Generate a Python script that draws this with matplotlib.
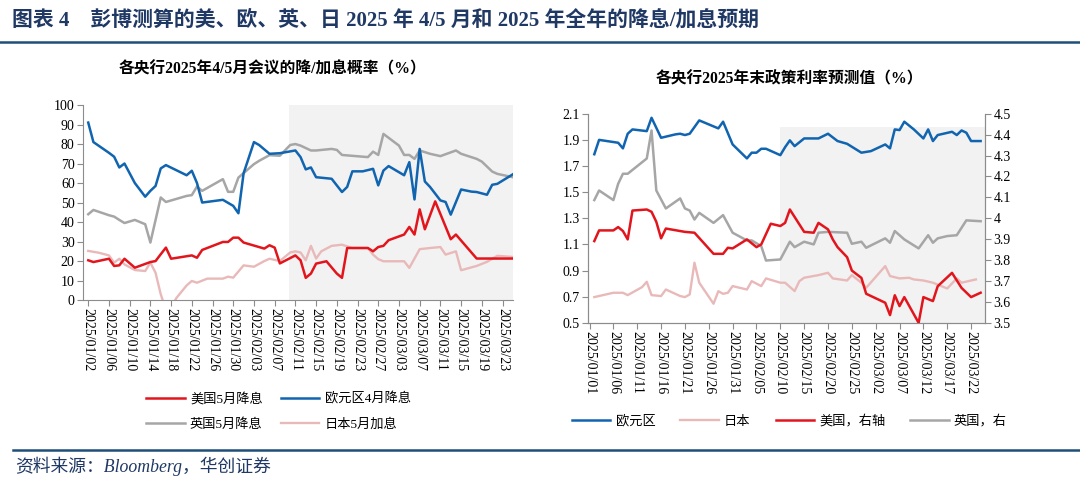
import pandas as pd
import numpy as np
import matplotlib
matplotlib.use("Agg")
import matplotlib.pyplot as plt
from matplotlib.lines import Line2D

plt.rcParams['font.family'] = ['Liberation Serif', 'Noto Sans CJK SC']
plt.rcParams['axes.unicode_minus'] = False

# ---------------- left chart: probability of cut / hike at Apr/May meeting (%) ----------------
us_may_dates = ['01-02', '01-03', '01-06', '01-07', '01-08', '01-09', '01-11', '01-14', '01-15', '01-16',
                '01-17', '01-18', '01-22', '01-23', '01-24', '01-28', '01-29', '01-30', '01-31', '02-01',
                '02-05', '02-06', '02-07', '02-08', '02-11', '02-12', '02-13', '02-14', '02-15', '02-17',
                '02-19', '02-20', '02-21', '02-25', '02-26', '02-27', '02-28', '03-01', '03-04', '03-05',
                '03-06', '03-07', '03-08', '03-10', '03-13', '03-14', '03-18', '03-25']
us_may = [20.4, 19.5, 21.2, 17.5, 17.8, 21.2, 16.6, 19.5, 20, 23.5,
          26.9, 21.2, 22.9, 21.7, 25.7, 29.8, 29.8, 32, 32, 29.5,
          26.4, 28.1, 26.9, 18.8, 22.9, 20.4, 11.4, 13.6, 18.7, 19.9,
          13.6, 11.4, 26.7, 26.7, 25, 27.2, 27.8, 30.7, 33.6, 37.5,
          33.6, 46.5, 36.3, 50.6, 31.2, 33.6, 21.3, 21.3]

ez_apr_dates = ['01-02', '01-03', '01-06', '01-07', '01-08', '01-09', '01-11', '01-13', '01-14', '01-15',
                '01-16', '01-17', '01-21', '01-22', '01-23', '01-24', '01-28', '01-30', '01-31', '02-01',
                '02-03', '02-04', '02-06', '02-08', '02-11', '02-12', '02-13', '02-14', '02-15', '02-18',
                '02-20', '02-21', '02-22', '02-24', '02-26', '02-27', '02-28', '03-01', '03-04', '03-05',
                '03-06', '03-07', '03-08', '03-09', '03-11', '03-12', '03-13', '03-15', '03-17', '03-18',
                '03-20', '03-21', '03-22', '03-25']
ez_apr = [91, 81, 75.5, 73.5, 68, 70, 60, 53, 56, 58.5,
          67.5, 69.2, 64, 66.3, 60, 50, 51.4, 48.3, 44.5, 65,
          81, 79.5, 75, 75.3, 76.7, 73.3, 67, 68, 63, 62.2,
          55.4, 58, 66, 66, 67.3, 58.8, 66.4, 68.7, 64, 70.7,
          51.6, 77.5, 60.8, 58, 51.1, 50.3, 43.8, 56.7, 55.6, 55.4,
          54, 59.1, 59.6, 64.5]

uk_may_dates = ['01-02', '01-03', '01-06', '01-07', '01-08', '01-09', '01-11', '01-13', '01-14', '01-16',
                '01-17', '01-21', '01-22', '01-23', '01-24', '01-28', '01-29', '01-30', '01-31', '02-03',
                '02-04', '02-06', '02-08', '02-10', '02-11', '02-12', '02-14', '02-15', '02-18', '02-19',
                '02-20', '02-25', '02-26', '02-27', '02-28', '03-03', '03-04', '03-05', '03-06', '03-07',
                '03-09', '03-11', '03-14', '03-15', '03-18', '03-19', '03-21', '03-22', '03-25']
uk_may = [44, 46.2, 43.5, 42.8, 41.1, 39.5, 41.1, 38.9, 29.5, 52.6,
          50.3, 53.4, 53.8, 58.2, 56, 62, 55.5, 55.5, 62.8, 69.7,
          71.4, 74.3, 74, 79.5, 80, 79.2, 76.7, 76.7, 77.5, 77,
          74.4, 73.3, 76.1, 74.4, 85.2, 79.2, 74.4, 74.4, 72.4, 76.7,
          75, 73.8, 76.7, 75, 72.4, 71, 65.9, 64.7, 63]

jp_may_dates = ['01-02', '01-04', '01-06', '01-07', '01-08', '01-09', '01-11', '01-13', '01-14', '01-15',
                '01-16', '01-17', '01-18', '01-19', '01-21', '01-22', '01-23', '01-25', '01-28', '01-29',
                '01-30', '02-01', '02-03', '02-05', '02-06', '02-08', '02-10', '02-11', '02-12', '02-13',
                '02-14', '02-15', '02-16', '02-18', '02-20', '02-22', '02-25', '02-26', '02-27', '02-28',
                '03-02', '03-04', '03-05', '03-07', '03-09', '03-11', '03-12', '03-14', '03-15', '03-18',
                '03-20', '03-22', '03-25']
jp_may = [25.2, 24.3, 22.9, 19.2, 21.2, 18.3, 15.4, 14.9, 19.2, 14,
          3, -5, -4, 1, 7.5, 9.8, 8.9, 11, 11, 12,
          11.5, 17.8, 17.1, 20, 21.2, 20, 24.4, 25, 24.4, 20.4,
          27.8, 21.3, 25, 27.8, 28.4, 26.7, 26.7, 23.3, 21, 19.9,
          19.9, 19.9, 16.5, 26.1, 26.7, 27.2, 23.3, 25, 15.3, 17.5,
          19.6, 22.7, 22.1]

# ---------------- right chart: end-2025 policy rate forecasts (%) ----------------
ez_dates = ['01-02', '01-03', '01-07', '01-08', '01-09', '01-10', '01-13', '01-14', '01-16', '01-19',
            '01-20', '01-21', '01-22', '01-24', '01-28', '01-29', '01-31', '02-03', '02-04', '02-05',
            '02-06', '02-07', '02-10', '02-11', '02-12', '02-13', '02-15', '02-18', '02-20', '02-22',
            '02-24', '02-27', '03-01', '03-04', '03-05', '03-06', '03-07', '03-08', '03-10', '03-12',
            '03-13', '03-14', '03-15', '03-18', '03-19', '03-20', '03-21', '03-22', '03-24']
ez = [1.79, 1.90, 1.878, 1.835, 1.947, 1.98, 1.967, 2.069, 1.916, 1.942,
      1.947, 1.937, 1.947, 2.049, 1.988, 2.039, 1.865, 1.758, 1.802, 1.802,
      1.832, 1.832, 1.783, 1.844, 1.896, 1.852, 1.911, 1.911, 1.947, 1.891,
      1.870, 1.802, 1.814, 1.865, 1.835, 1.98, 1.975, 2.039, 1.98, 1.911,
      1.98, 1.891, 1.937, 1.962, 1.937, 1.972, 1.955, 1.891, 1.891]

jp_dates = ['01-02', '01-06', '01-08', '01-09', '01-12', '01-13', '01-14', '01-16', '01-17', '01-20',
            '01-21', '01-22', '01-23', '01-24', '01-27', '01-28', '01-29', '01-30', '01-31', '02-03',
            '02-04', '02-06', '02-07', '02-10', '02-11', '02-13', '02-14', '02-15', '02-18', '02-20',
            '02-21', '02-24', '02-25', '02-27', '02-28', '03-04', '03-05', '03-07', '03-09', '03-10',
            '03-12', '03-14', '03-17', '03-19', '03-20', '03-23']
jp = [0.697, 0.73, 0.73, 0.712, 0.773, 0.814, 0.712, 0.705, 0.755, 0.705,
      0.697, 0.717, 0.96, 0.807, 0.646, 0.742, 0.722, 0.73, 0.781, 0.755,
      0.819, 0.781, 0.84, 0.807, 0.807, 0.743, 0.819, 0.845, 0.865, 0.883,
      0.84, 0.824, 0.865, 0.807, 0.768, 0.934, 0.858, 0.84, 0.845, 0.832,
      0.824, 0.807, 0.763, 0.84, 0.807, 0.832]

us_dates = ['01-02', '01-03', '01-06', '01-07', '01-08', '01-09', '01-10', '01-13', '01-14', '01-15',
            '01-16', '01-17', '01-20', '01-21', '01-23', '01-27', '01-29', '01-30', '01-31', '02-03',
            '02-05', '02-06', '02-08', '02-10', '02-11', '02-12', '02-15', '02-17', '02-18', '02-20',
            '02-21', '02-22', '02-24', '02-25', '02-27', '02-28', '03-04', '03-05', '03-06', '03-07',
            '03-08', '03-11', '03-12', '03-14', '03-15', '03-18', '03-20', '03-22', '03-24']
us = [3.891, 3.942, 3.942, 3.958, 3.939, 3.899, 4.037, 4.042, 4.031, 3.983,
      3.904, 3.951, 3.939, 3.935, 3.931, 3.83, 3.83, 3.859, 3.856, 3.899,
      3.862, 3.875, 3.974, 3.963, 3.978, 4.042, 3.935, 3.931, 3.978, 3.947,
      3.899, 3.862, 3.814, 3.75, 3.715, 3.639, 3.596, 3.537, 3.632, 3.58,
      3.623, 3.5, 3.623, 3.604, 3.675, 3.739, 3.667, 3.623, 3.644]

uk_dates = ['01-02', '01-03', '01-06', '01-07', '01-08', '01-09', '01-13', '01-14', '01-15', '01-17',
            '01-20', '01-21', '01-22', '01-23', '01-24', '01-27', '01-29', '01-31', '02-03', '02-04',
            '02-06', '02-07', '02-10', '02-12', '02-13', '02-15', '02-17', '02-18', '02-20', '02-24',
            '02-25', '02-27', '02-28', '03-04', '03-05', '03-06', '03-08', '03-11', '03-13', '03-14',
            '03-15', '03-17', '03-19', '03-21', '03-24']
uk = [4.087, 4.133, 4.087, 4.165, 4.213, 4.213, 4.286, 4.42, 4.133, 4.047,
      4.095, 4.047, 4.037, 3.994, 4.026, 3.978, 4.015, 3.931, 3.894, 3.894,
      3.867, 3.798, 3.803, 3.888, 3.862, 3.888, 3.875, 3.931, 3.935, 3.931,
      3.878, 3.888, 3.859, 3.904, 3.883, 3.939, 3.899, 3.856, 3.919, 3.883,
      3.904, 3.915, 3.919, 3.99, 3.986]

shade_start = '02-10'

BLUE = '#1064B0'
RED = '#E2151D'
GRAY = '#A6A6A6'
PINK = '#E9B9B9'
SHADE = '#F2F2F2'
NAVY = '#1F3864'
AXC = '#8C8C8C'


def d(lst):
    return pd.to_datetime(['2025-' + s for s in lst])


fig = plt.figure(figsize=(10.8, 4.84), dpi=100)

# header / footer
fig.text(0.011, 0.958, '图表 4    彭博测算的美、欧、英、日 2025 年 4/5 月和 2025 年全年的降息/加息预期',
         fontsize=15, fontweight='bold', color=NAVY, va='center', ha='left')
fig.add_artist(Line2D([0, 1], [0.913, 0.913], transform=fig.transFigure, color='#1F4E79', lw=1.8))
fig.add_artist(Line2D([0.012, 1], [0.071, 0.071], transform=fig.transFigure, color='#1F4E79', lw=1.8))
fig.text(0.014, 0.037, '资料来源：Bloomberg，华创证券', fontsize=12.8, style='italic',
         color=NAVY, va='center', ha='left')

# ---------------- left chart ----------------
ax = fig.add_axes([0.0769, 0.380, 0.398, 0.403])
x0, x1 = pd.Timestamp('2025-01-01'), pd.Timestamp('2025-03-25')
ax.axvspan(d([shade_start])[0] - pd.Timedelta(hours=4), x1, color=SHADE, lw=0, zorder=0)
ax.plot(d(jp_may_dates), jp_may, color=PINK, lw=1.7, label='日本5月加息', zorder=2)
ax.plot(d(uk_may_dates), uk_may, color=GRAY, lw=1.8, label='英国5月降息', zorder=3)
ax.plot(d(ez_apr_dates), ez_apr, color=BLUE, lw=1.8, label='欧元区4月降息', zorder=4)
ax.plot(d(us_may_dates), us_may, color=RED, lw=1.8, label='美国5月降息', zorder=5)
ax.set_xlim(x0, x1)
ax.set_ylim(0, 100)
ax.set_yticks(np.arange(0, 101, 10))
lt = pd.date_range('2025-01-02', '2025-03-23', freq='4D')
ax.set_xticks(lt)
ax.set_xticklabels([t.strftime('%Y/%m/%d') for t in lt], rotation=270, ha='center', va='top')
for s in ['top', 'right']:
    ax.spines[s].set_visible(False)
for s in ['left', 'bottom']:
    ax.spines[s].set_color(AXC)
ax.tick_params(axis='both', direction='out', length=4, color=AXC, labelsize=10, pad=2)
fig.text(0.252, 0.856, '各央行2025年4/5月会议的降/加息概率（%）', fontsize=11.3,
         fontweight='bold', ha='center', va='center')

h, l = ax.get_legend_handles_labels()
order = [3, 1, 2, 0]
fig.legend([h[i] for i in order], [l[i] for i in order], ncol=2, loc='center',
           bbox_to_anchor=(0.258, 0.150), frameon=False, fontsize=9.5,
           handlelength=2.9, handletextpad=0.4, columnspacing=1.4, labelspacing=0.95)

# ---------------- right chart ----------------
bx = fig.add_axes([0.5444, 0.333, 0.368, 0.432])
bx2 = bx.twinx()
r0, r1 = pd.Timestamp('2024-12-31 16:00'), pd.Timestamp('2025-03-25')
bx.fill_between([d([shade_start])[0], r1], 0.5, 2.0, color=SHADE, lw=0, zorder=0)
bx.plot(d(ez_dates), ez, color=BLUE, lw=1.8, label='欧元区', zorder=3)
bx.plot(d(jp_dates), jp, color=PINK, lw=1.7, label='日本', zorder=2)
bx2.plot(d(us_dates), us, color=RED, lw=1.8, label='美国，右轴', zorder=3)
bx2.plot(d(uk_dates), uk, color=GRAY, lw=1.8, label='英国，右', zorder=2)
bx.set_xlim(r0, r1)
bx.set_ylim(0.5, 2.1)
bx.set_yticks(np.arange(0.5, 2.11, 0.2))
bx.set_yticklabels(['%.1f' % v for v in np.arange(0.5, 2.11, 0.2)])
bx2.set_ylim(3.5, 4.5)
rt = np.round(np.arange(3.5, 4.51, 0.1), 1)
bx2.set_yticks(rt)
bx2.set_yticklabels(['%g' % v for v in rt])
xt = pd.date_range('2025-01-01', '2025-03-22', freq='5D')
bx.set_xticks(xt)
bx.set_xticklabels([t.strftime('%Y/%m/%d') for t in xt], rotation=270, ha='center', va='top')
for a in (bx, bx2):
    a.spines['top'].set_visible(False)
    for s in ['left', 'right', 'bottom']:
        a.spines[s].set_color(AXC)
    a.tick_params(axis='both', direction='out', length=4, color=AXC, labelsize=10, pad=2)
fig.text(0.731, 0.835, '各央行2025年末政策利率预测值（%）', fontsize=11.3,
         fontweight='bold', ha='center', va='center')

h1, l1 = bx.get_legend_handles_labels()
h2, l2 = bx2.get_legend_handles_labels()
fig.legend(h1 + h2, l1 + l2, ncol=4, loc='center', bbox_to_anchor=(0.731, 0.130),
           frameon=False, fontsize=9.5, handlelength=2.9, handletextpad=0.4, columnspacing=1.9)

fig.savefig('out.png', dpi=100)
